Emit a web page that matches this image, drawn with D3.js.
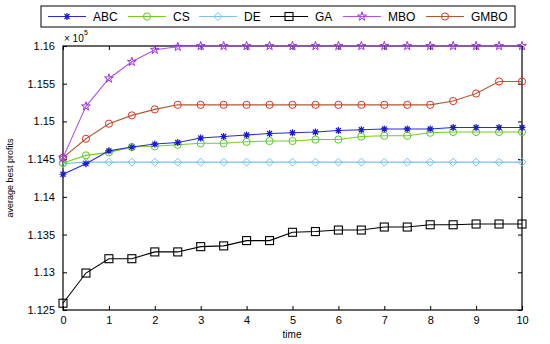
<!DOCTYPE html>
<html>
<head>
<meta charset="utf-8">
<script src="https://d3js.org/d3.v7.min.js"></script>
<style>
  body { margin: 0; background: #fff; }
  text { font-family: "Liberation Sans", Arial, sans-serif; }
</style>
</head>
<body>
<svg width="550" height="344"></svg>
<script>
// data (values in units of 1e5)
var times = d3.range(0, 10.01, 0.5);
var abc  = [1.1430,1.1444,1.1461,1.1466,1.1470,1.1472,1.1478,1.1480,1.1482,1.1484,1.1485,1.1486,1.1488,1.1489,1.1490,1.1490,1.1490,1.1492,1.1492,1.1492,1.1492];
var cs   = [1.1445,1.1455,1.1459,1.1466,1.1467,1.1469,1.1471,1.1471,1.1473,1.1474,1.1474,1.1476,1.1476,1.1480,1.1481,1.1481,1.1485,1.1486,1.1486,1.1486,1.1486];
var de   = [1.1444,1.1446,1.1446,1.1446,1.1446,1.1446,1.1446,1.1446,1.1446,1.1446,1.1446,1.1446,1.1446,1.1446,1.1446,1.1446,1.1446,1.1446,1.1446,1.1446,1.1446];
var ga   = [1.1259,1.1299,1.1318,1.1318,1.1327,1.1327,1.1334,1.1335,1.1342,1.1342,1.1353,1.1354,1.1356,1.1356,1.1360,1.1360,1.1363,1.1363,1.1364,1.1364,1.1364];
var mbo  = [1.1452,1.1520,1.1557,1.1579,1.1595,1.1599,1.1600,1.1600,1.1600,1.1600,1.1600,1.1600,1.1600,1.1600,1.1600,1.1600,1.1600,1.1600,1.1600,1.1600,1.1600];
var gmbo = [1.1452,1.1477,1.1497,1.1508,1.1516,1.1522,1.1522,1.1522,1.1522,1.1522,1.1522,1.1522,1.1522,1.1522,1.1522,1.1522,1.1522,1.1527,1.1537,1.1553,1.1553];
var yTicks = [1.125,1.13,1.135,1.14,1.145,1.15,1.155,1.16];
var xTicks = [0,1,2,3,4,5,6,7,8,9,10];

var series = [
  {name:"ABC",  values:abc,  line:"#2a2ae0", mark:"#1a1acc", shape:"asterisk"},
  {name:"CS",   values:cs,   line:"#77cc22", mark:"#55cc22", shape:"circle"},
  {name:"DE",   values:de,   line:"#7fbff0", mark:"#66ccee", shape:"diamond"},
  {name:"GA",   values:ga,   line:"#000000", mark:"#000000", shape:"square"},
  {name:"MBO",  values:mbo,  line:"#b050f0", mark:"#9933dd", shape:"star"},
  {name:"GMBO", values:gmbo, line:"#b05a30", mark:"#dd3322", shape:"circle"}
];

var svg = d3.select("svg");
var pLeft = 63, pRight = 522, pTop = 46, pBottom = 310;

var x = d3.scaleLinear().domain([0,10]).range([pLeft,pRight]);
var y = d3.scaleLinear().domain([1.125,1.16]).range([pBottom,pTop]);

// frame
svg.append("rect").attr("x",pLeft).attr("y",pTop)
  .attr("width",pRight-pLeft).attr("height",pBottom-pTop)
  .attr("fill","none").attr("stroke","#000").attr("stroke-width",1.2);

// axes, ticks inside
svg.append("g").attr("transform","translate(0,"+pBottom+")")
  .call(d3.axisBottom(x).tickValues(xTicks).tickSize(-4).tickPadding(6).tickFormat(d3.format("d")));
svg.append("g").attr("transform","translate(0,"+pTop+")")
  .call(d3.axisTop(x).tickValues(xTicks).tickSize(-4).tickFormat(""));
svg.append("g").attr("transform","translate("+pLeft+",0)")
  .call(d3.axisLeft(y).tickValues(yTicks).tickSize(-4).tickPadding(8).tickFormat(function(d){ return String(+d.toFixed(3)); }));
svg.append("g").attr("transform","translate("+pRight+",0)")
  .call(d3.axisRight(y).tickValues(yTicks).tickSize(-4).tickFormat(""));
svg.selectAll(".domain").remove();
svg.selectAll(".tick line").attr("stroke","#000");
svg.selectAll(".tick text").attr("font-size",11).attr("fill","#000")
  .style("font-family","Liberation Sans, Arial, sans-serif");

// exponent label
svg.append("text").attr("x",64).attr("y",42).attr("font-size",10).text("\u00d7 10");
svg.append("text").attr("x",84).attr("y",35).attr("font-size",7).text("5");

// axis labels
svg.append("text").attr("x",292).attr("y",338).attr("text-anchor","middle")
  .attr("font-size",10).text("time");
svg.append("text").attr("transform","translate(13,178) rotate(-90)")
  .attr("text-anchor","middle").attr("font-size",9).attr("fill","#000").text("average best profits");

function drawMarker(g, shape, color, cx, cy) {
  if (shape === "asterisk") {
    g.append("path").attr("d", "M"+(cx-3.5)+","+cy+"h7M"+cx+","+(cy-3.5)+"v7M"+(cx-2.5)+","+(cy-2.5)+"l5,5M"+(cx-2.5)+","+(cy+2.5)+"l5,-5")
      .attr("stroke",color).attr("stroke-width",1.2).attr("fill","none");
  } else if (shape === "circle") {
    g.append("circle").attr("cx",cx).attr("cy",cy).attr("r",3.6)
      .attr("fill","none").attr("stroke",color).attr("stroke-width",1);
  } else if (shape === "diamond") {
    g.append("path").attr("d","M"+cx+","+(cy-4)+"L"+(cx+4)+","+cy+"L"+cx+","+(cy+4)+"L"+(cx-4)+","+cy+"Z")
      .attr("fill","none").attr("stroke",color).attr("stroke-width",1);
  } else if (shape === "square") {
    g.append("rect").attr("x",cx-4).attr("y",cy-4).attr("width",8).attr("height",8)
      .attr("fill","none").attr("stroke",color).attr("stroke-width",1.1);
  } else if (shape === "star") {
    g.append("path").attr("d", d3.symbol().type(d3.symbolStar).size(24)())
      .attr("transform","translate("+cx+","+cy+")")
      .attr("fill","none").attr("stroke",color).attr("stroke-width",1);
  }
}

var line = d3.line().x(function(d,i){ return x(times[i]); }).y(function(d){ return y(d); });

// draw order so MBO/GMBO sit on top like the original
var order = ["DE","GA","CS","ABC","GMBO","MBO"];
order.forEach(function(nm) {
  var s = series.find(function(d){ return d.name === nm; });
  var g = svg.append("g");
  g.append("path").attr("d", line(s.values)).attr("fill","none")
    .attr("stroke", s.line).attr("stroke-width", 1.1);
  s.values.forEach(function(v,i){ drawMarker(g, s.shape, s.mark, x(times[i]), y(v)); });
});

// legend
var lg = svg.append("g");
lg.append("rect").attr("x",41).attr("y",6).attr("width",474).attr("height",21)
  .attr("fill","#fff").attr("stroke","#000").attr("stroke-width",1);
var legX = [48,128,199,270,343,426];
series.forEach(function(s,i){
  var x0 = legX[i];
  lg.append("line").attr("x1",x0).attr("x2",x0+38).attr("y1",16.5).attr("y2",16.5)
    .attr("stroke",s.line).attr("stroke-width",1.1);
  drawMarker(lg, s.shape, s.mark, x0+19, 16.5);
  lg.append("text").attr("x",x0+45).attr("y",21).attr("font-size",12).text(s.name);
});
</script>
</body>
</html>
